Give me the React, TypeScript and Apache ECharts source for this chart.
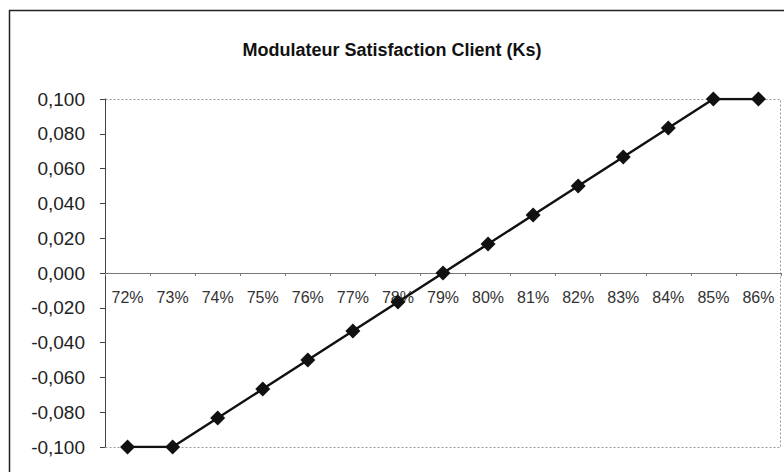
import React, { useEffect, useRef } from "react";
import * as echarts from "echarts";

const categories = ["72%", "73%", "74%", "75%", "76%", "77%", "78%", "79%", "80%", "81%", "82%", "83%", "84%", "85%", "86%"];
const ksValues = [-0.1, -0.1, -0.0833, -0.0667, -0.05, -0.0333, -0.0167, 0, 0.0167, 0.0333, 0.05, 0.0667, 0.0833, 0.1, 0.1];
const titleText = "Modulateur Satisfaction Client (Ks)";

export default function App() {
  const ref = useRef<HTMLDivElement>(null);
  useEffect(() => {
    if (!ref.current) return;
    const chart = echarts.init(ref.current, null, { renderer: "svg" });
    const gl = 105, gt = 99, gr = 3, gb = 25;
    const W = 784, H = 472;
    const gh = H - gt - gb;
    chart.setOption({
      animation: false,
      backgroundColor: "#fff",
      title: {
        text: titleText,
        left: "center",
        top: 36,
        textStyle: { fontFamily: "Liberation Sans, Arial", fontSize: 18, fontWeight: "bold", color: "#111" },
      },
      graphic: [
        {
          type: "rect",
          shape: { x: 9.5, y: 10.5, width: 800, height: 500 },
          style: { fill: "none", stroke: "#222", lineWidth: 1.5 },
          silent: true,
        },
        {
          type: "rect",
          shape: { x: gl + 0.5, y: gt + 0.5, width: W - gl - gr - 1, height: gh },
          style: { fill: "none", stroke: "#999", lineWidth: 1, lineDash: [2, 2] },
          silent: true,
          z: 0,
        },
      ],
      grid: { left: gl, right: gr, top: gt, bottom: gb, containLabel: false },
      xAxis: {
        type: "category",
        data: categories,
        boundaryGap: true,
        offset: -gh / 2,
        axisLine: { onZero: false, lineStyle: { color: "#777", width: 1 } },
        axisTick: { show: true, alignWithLabel: false, length: 3, lineStyle: { color: "#777" } },
        axisLabel: { margin: 16, fontFamily: "Liberation Sans, Arial", fontSize: 16, color: "#333" },
        splitLine: { show: false },
      },
      yAxis: {
        type: "value",
        min: -0.1,
        max: 0.1,
        interval: 0.02,
        axisLine: { show: true, lineStyle: { color: "#444", width: 1 } },
        axisTick: { show: true, length: 5, lineStyle: { color: "#444" } },
        axisLabel: {
          margin: 20,
          fontFamily: "Liberation Sans, Arial",
          fontSize: 19,
          color: "#222",
          formatter: (v: number) => {
            const r = Math.round(v * 1000) / 1000;
            const s = (Math.abs(r) < 1e-9 ? 0 : r).toFixed(3);
            return s.replace(".", ",");
          },
        },
        splitLine: { show: false },
      },
      series: [
        {
          type: "line",
          data: ksValues,
          symbol: "diamond",
          symbolSize: 15,
          lineStyle: { color: "#111", width: 2.5 },
          itemStyle: { color: "#111" },
          z: 5,
        },
      ],
    });
    return () => chart.dispose();
  }, []);
  return <div ref={ref} style={{ width: 784, height: 472, position: "absolute", left: 0, top: 0 }} />;
}
